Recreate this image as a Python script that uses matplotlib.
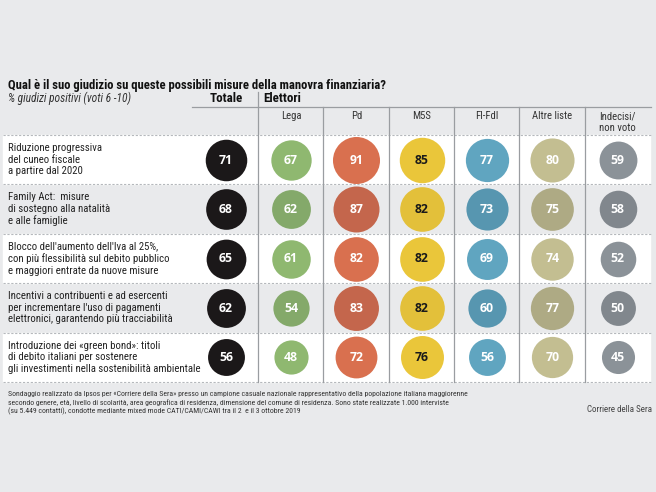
import matplotlib
matplotlib.use("Agg")
import matplotlib.pyplot as plt
import numpy as np

# data
measures = [
    "Riduzione progressiva\ndel cuneo fiscale\na partire dal 2020",
    "Family Act:  misure\ndi sostegno alla natalità\ne alle famiglie",
    "Blocco dell'aumento dell'Iva al 25%,\ncon più flessibilità sul debito pubblico\ne maggiori entrate da nuove misure",
    "Incentivi a contribuenti e ad esercenti\nper incrementare l'uso di pagamenti\nelettronici, garantendo più tracciabilità",
    "Introduzione dei «green bond»: titoli\ndi debito italiani per sostenere\ngli investimenti nella sostenibilità ambientale",
]
groups = ["Lega", "Pd", "M5S", "FI-FdI", "Altre liste", "Indecisi/\nnon voto"]
totale = [71, 68, 65, 62, 56]
lega = [67, 62, 61, 54, 48]
pd_ = [91, 87, 82, 83, 72]
m5s = [85, 82, 82, 82, 76]
fi_fdi = [77, 73, 69, 60, 56]
altre = [80, 75, 74, 77, 70]
indecisi = [59, 58, 52, 50, 45]

title = "Qual è il suo giudizio su queste possibili misure della manovra finanziaria?"
subtitle = "% giudizi positivi (voti 6 -10)"
note = ("Sondaggio realizzato da Ipsos per «Corriere della Sera» presso un campione casuale nazionale rappresentativo della popolazione italiana maggiorenne\n"
        "secondo genere, età, livello di scolarità, area geografica di residenza, dimensione del comune di residenza. Sono state realizzate 1.000 interviste\n"
        "(su 5.449 contatti), condotte mediante mixed mode CATI/CAMI/CAWI tra il 2  e il 3 ottobre 2019")
source = "Corriere della Sera"

# colours: (white row, grey row)
group_colors = [
    ("#8fb870", "#84a96a"),
    ("#d9704f", "#c4664c"),
    ("#eac63a", "#e3c03a"),
    ("#60a5c0", "#5796b0"),
    ("#c3be91", "#aeaa84"),
    ("#8b9298", "#81878d"),
]
text_colors = ["white", "white", "#1a1a1a", "white", "white", "white"]

BG = "#e9eaec"
NARROW = ["Roboto Condensed", "Roboto", "DejaVu Sans"]

fig = plt.figure(figsize=(6.56, 4.92), dpi=100, facecolor=BG)
ax = fig.add_axes([0, 0, 1, 1])
ax.set_xlim(0, 656)
ax.set_ylim(492, 0)
ax.axis("off")
ax.set_facecolor(BG)

row_top = 135
row_h = 49.4
tot_x = 226
col_x0 = 291
col_step = 65.3
k = 4.93 * 72 / 100  # circle diameter in points per sqrt(value)

series = [lega, pd_, m5s, fi_fdi, altre, indecisi]

for i, label in enumerate(measures):
    y0 = row_top + i * row_h
    yc = y0 + row_h / 2
    grey = i % 2 == 1
    if not grey:
        ax.add_patch(plt.Rectangle((3, y0), 647, row_h, color="white", zorder=0))
    ax.plot([3, 652], [y0 + row_h, y0 + row_h], color="#b5b8bc", lw=0.8,
            ls=(0, (2, 1.5)), zorder=1)
    ax.text(8, yc, label, ha="left", va="center", fontsize=7.75, family=NARROW,
            color="#222222", linespacing=1.2)

    # totale
    ax.scatter([tot_x], [yc], s=(k * np.sqrt(totale[i])) ** 2, color="#1b1819",
               zorder=3, linewidths=0)
    ax.text(tot_x, yc + 0.5, str(totale[i]), ha="center", va="center", fontsize=8.8,
            family="Open Sans", weight="bold", color="white", zorder=4)

    for j, vals in enumerate(series):
        xc = col_x0 + j * col_step
        ax.scatter([xc], [yc], s=(k * np.sqrt(vals[i])) ** 2,
                   color=group_colors[j][1 if grey else 0], zorder=3, linewidths=0)
        ax.text(xc, yc + 0.5, str(vals[i]), ha="center", va="center", fontsize=8.8,
                family="Open Sans", weight="bold", color=text_colors[j], zorder=4)

# top dotted line of table
ax.plot([3, 652], [row_top, row_top], color="#b5b8bc", lw=0.8, ls=(0, (2, 1.5)), zorder=1)

table_bottom = row_top + len(measures) * row_h

# header lines
ax.plot([192, 651], [107, 107], color="#9a9da1", lw=0.9, zorder=2)
ax.plot([258, 258], [92, table_bottom], color="#9a9da1", lw=0.9, zorder=2)
for j in range(1, len(groups)):
    xl = 258 + j * col_step
    ax.plot([xl, xl], [107, table_bottom], color="#9a9da1", lw=0.9, zorder=2)

for j, g in enumerate(groups):
    xc = col_x0 + j * col_step
    ax.text(xc, 116 if "\n" not in g else 122, g, ha="center", va="center",
            fontsize=7.7, family=NARROW, color="#333333", linespacing=1.15)

ax.text(tot_x, 98, "Totale", ha="center", va="center", fontsize=9.4,
        family=NARROW, weight="bold", color="#111111")
ax.text(263, 98, "Elettori", ha="left", va="center", fontsize=9.4,
        family=NARROW, weight="bold", color="#111111")

ax.text(8, 85, title, ha="left", va="center", fontsize=9.1, family=NARROW,
        weight="bold", color="#111111")
ax.text(8, 98, subtitle, ha="left", va="center", fontsize=8.3, family=NARROW,
        style="italic", color="#333333")

ax.text(8, 403, note, ha="left", va="center", fontsize=5.6, family=NARROW,
        color="#333333", linespacing=1.35)
ax.text(652, 409, source, ha="right", va="center", fontsize=6.5, family=NARROW,
        color="#444444")

fig.savefig("out.png", dpi=100, facecolor=BG)
